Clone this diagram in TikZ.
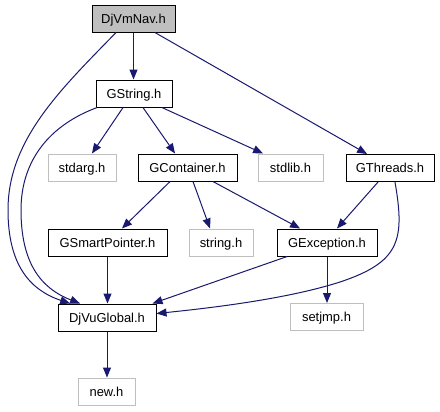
\documentclass[tikz,border=0pt]{standalone}
\usepackage{fontspec}
\setmainfont{Liberation Sans}
\usepackage{xcolor}
\usetikzlibrary{arrows.meta}
\definecolor{edgeblue}{HTML}{191970}
\definecolor{sysgray}{HTML}{BFBFBF}
\tikzset{
  hfile/.style={draw=black,fill=white,line width=1bp,inner sep=0pt,minimum height=27bp,text height=9.3bp,text depth=0pt},
  hsys/.style={draw=sysgray,fill=white,line width=1bp,inner sep=0pt,minimum height=27bp,text height=9.3bp,text depth=0pt},
  hroot/.style={draw=black,fill=sysgray,line width=1bp,inner sep=0pt,minimum height=27bp,text height=9.3bp,text depth=0pt},
  harr/.style={-{Triangle[length=10bp,width=8bp]},line width=1bp,draw=edgeblue,fill=none}
}

\begin{document}
\begin{tikzpicture}[x=1bp,y=-1bp,font=\fontsize{13}{15}\selectfont]
  \useasboundingbox[fill=white] (0,0) rectangle (440,411);
  % header nodes
  \node[hroot,minimum width=83bp] (nav) at (133.5,18.5) {DjVmNav.h};
  \node[hfile,minimum width=76bp] (gstr) at (134,93.5) {GString.h};
  \node[hsys,minimum width=68bp] (stdarg) at (82,167.5) {stdarg.h};
  \node[hfile,minimum width=99bp] (gcont) at (187.5,167.5) {GContainer.h};
  \node[hsys,minimum width=65bp] (stdlib) at (290.5,167.5) {stdlib.h};
  \node[hfile,minimum width=88bp] (gthr) at (390,168) {GThreads.h};
  \node[hfile,minimum width=119bp] (gsmart) at (107.5,242.5) {GSmartPointer.h};
  \node[hsys,minimum width=64bp] (strh) at (221,242.5) {string.h};
  \node[hfile,minimum width=100bp] (gexc) at (327,242.5) {GException.h};
  \node[hfile,minimum width=98bp] (dvg) at (107,317.5) {DjVuGlobal.h};
  \node[hsys,minimum width=73bp] (setjmp) at (326.5,317) {setjmp.h};
  \node[hsys,minimum width=57bp] (newh) at (106.5,391.5) {new.h};
  % includes
  \draw[harr] (nav.south) -- (nav.south |- gstr.north);
  \draw[harr] ([xshift=21.5]nav.south) -- ([xshift=-23]gthr.north);
  \draw[harr] ([xshift=-17.5]nav.south) .. controls (60,90) and (8,140) .. (8,210)
     .. controls (8,265) and (30,290) .. ([xshift=-37]dvg.north);
  \draw[harr] ([xshift=-37]gstr.south) .. controls (50,125) and (21,160) .. (21,210)
     .. controls (21,262) and (40,288) .. ([xshift=-27]dvg.north);
  \draw[harr] ([xshift=-11]gstr.south) -- ([xshift=10]stdarg.north);
  \draw[harr] ([xshift=9]gstr.south) -- ([xshift=-12.5]gcont.north);
  \draw[harr] ([xshift=28]gstr.south) -- ([xshift=-27.5]stdlib.north);
  \draw[harr] ([xshift=-17.5]gcont.south) -- ([xshift=14.5]gsmart.north);
  \draw[harr] ([xshift=5.5]gcont.south) -- ([xshift=-11]strh.north);
  \draw[harr] ([xshift=25.5]gcont.south) -- ([xshift=-27]gexc.north);
  \draw[harr] ([xshift=-12]gthr.south) -- ([xshift=10]gexc.north);
  \draw[harr] ([xshift=5]gthr.south) .. controls (405,240) and (400,262) .. (340,282)
     .. controls (290,298) and (220,307) .. ([yshift=4]dvg.east);
  \draw[harr] (gsmart.south) -- (gsmart.south |- dvg.north);
  \draw[harr] ([xshift=-40]gexc.south) -- ([xshift=-4]dvg.north east);
  \draw[harr] (gexc.south) -- (gexc.south |- setjmp.north);
  \draw[harr] (dvg.south) -- (dvg.south |- newh.north);
\end{tikzpicture}
\end{document}
